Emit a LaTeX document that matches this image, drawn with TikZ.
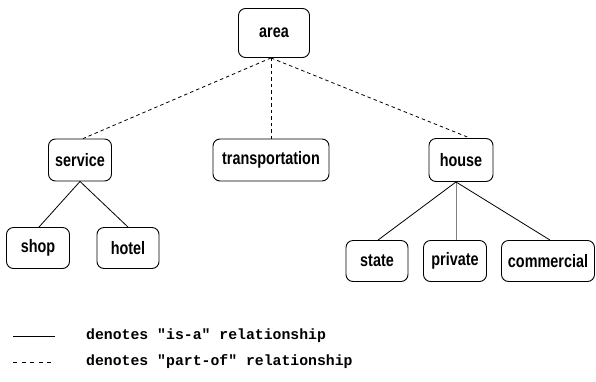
\documentclass[tikz,border=0pt]{standalone}
\usepackage{fontspec}
\setmainfont{Liberation Sans}
\setmonofont{Liberation Mono}
\newfontfamily\conceptfont[FakeStretch=0.8]{Liberation Sans}
\usetikzlibrary{positioning}

\begin{document}
\begin{tikzpicture}[
    x=1pt, y=-1pt,
    every node/.style={font=\conceptfont\fontsize{18}{20}\selectfont\bfseries},
    concept/.style={rectangle, rounded corners=7pt, draw=black, line width=0.9pt,
        minimum width=63pt, minimum height=42pt, inner xsep=6pt, align=center},
    isa/.style={line width=0.8pt},
    partof/.style={line width=0.8pt, dash pattern=on 3.5pt off 3pt},
    legendtext/.style={font=\ttfamily\bfseries\fontsize{14.8}{16}\selectfont,
        anchor=west, inner sep=0pt},
]
\useasboundingbox (0,0) rectangle (596,381);

% --- Root ---
\node[concept, minimum width=71pt, minimum height=49pt] (area) at (274,33) {area};

% --- Parts of area ---
\node[concept] (service) at (80,160) {service};
\node[concept, minimum width=116pt] (transport) at (271,160) {transportation};
\node[concept, minimum width=64pt, minimum height=43pt] (house) at (461,160) {house};

% --- Kinds ---
\node[concept, minimum height=41pt] (shop) at (38,248) {shop};
\node[concept, minimum width=62pt, minimum height=41pt] (hotel) at (128,248) {hotel};
\node[concept, minimum width=62pt, minimum height=41pt] (state) at (377,261) {state};
\node[concept, minimum height=41pt] (private) at (455,261) {private};
\node[concept, minimum width=93pt, minimum height=41pt] (commercial) at (548,261) {commercial};

% --- part-of links ---
\draw[partof] ([xshift=-3pt]area.south) -- ([xshift=3pt]service.north);
\draw[partof] ([xshift=-3pt]area.south) -- (transport.north);
\draw[partof] ([xshift=-3pt]area.south) -- ([xshift=9pt]house.north);

% --- is-a links ---
\draw[isa] (service.south) -- ([xshift=1pt]shop.north);
\draw[isa] (service.south) -- (hotel.north);
\draw[isa] ([xshift=-5pt]house.south) -- ([xshift=1pt]state.north);
\draw[isa, gray] ([xshift=-5pt]house.south) -- ([xshift=1pt]private.north);
\draw[isa] ([xshift=-5pt]house.south) -- ([xshift=2pt]commercial.north);

% --- Legend ---
\coordinate (isaA) at (13,336);
\coordinate (isaB) at (55,336);
\coordinate (partA) at (13,362);
\coordinate (partB) at (55,362);
\draw[isa] (isaA) -- (isaB);
\draw[partof, dash pattern=on 4pt off 4.5pt] (partA) -- (partB);
\node[legendtext] (isatext) at (86,336) {denotes "is-a" relationship};
\node[legendtext] (parttext) at (86,362) {denotes "part-of" relationship};

\end{tikzpicture}
\end{document}
